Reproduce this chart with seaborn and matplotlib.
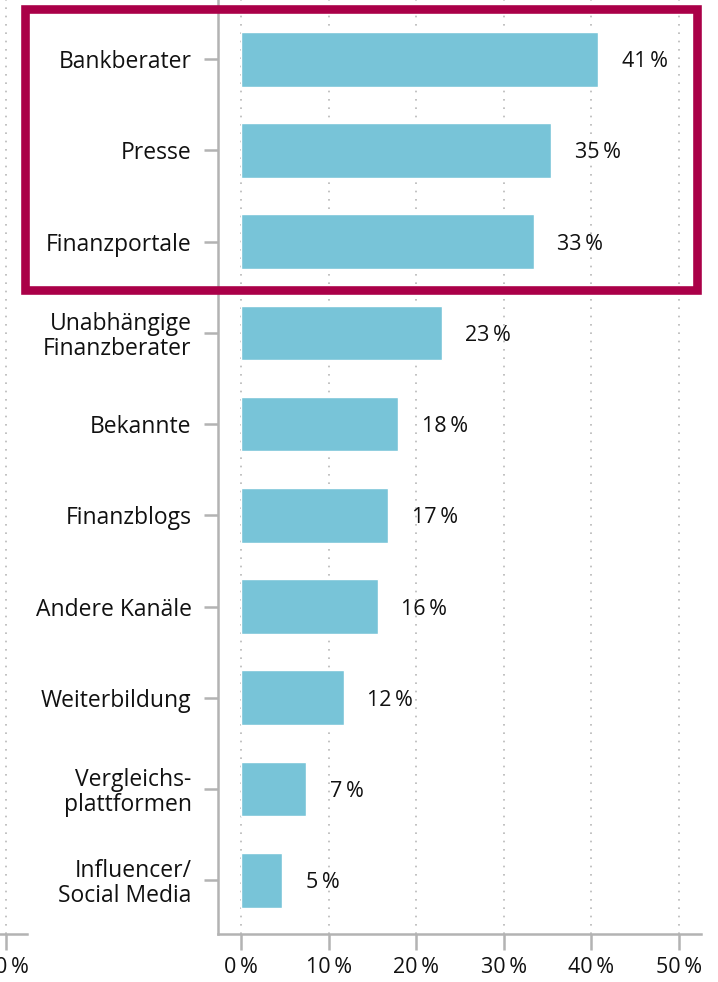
import seaborn as sns
import pandas as pd
import matplotlib.pyplot as plt
import matplotlib.transforms as mtransforms
from matplotlib.patches import Rectangle

# Data
channels = ['Bankberater', 'Presse', 'Finanzportale', 'Unabhängige\nFinanzberater',
            'Bekannte', 'Finanzblogs', 'Andere Kanäle', 'Weiterbildung',
            'Vergleichs-\nplattformen', 'Influencer/\nSocial Media']
shares = [40.8, 35.4, 33.4, 22.9, 17.9, 16.8, 15.6, 11.7, 7.4, 4.7]
value_labels = ['41', '35', '33', '23', '18', '17', '16', '12', '7', '5']
tick_values = [0, 10, 20, 30, 40, 50]

df = pd.DataFrame({'channel': channels, 'share': shares})

sns.set_style('white')
plt.rcParams['font.family'] = ['Open Sans', 'DejaVu Sans']

bar_color = '#78c4d8'
axis_gray = '#b3b3b3'
grid_gray = '#b8b8b8'
box_red = '#aa0048'
text_col = '#111111'

fig = plt.figure(figsize=(7.18, 9.82), dpi=100)

# main chart
ax = fig.add_axes([218 / 718, 48 / 982, 483 / 718, 934 / 982])
sns.barplot(data=df, x='share', y='channel', orient='h', color=bar_color,
            width=0.6, saturation=1, ax=ax)

ax.set_xlim(-2.63, 52.5)
ax.set_ylim(len(channels) - 1 + 0.59, -0.65)
ax.set_xticks(tick_values)
ax.set_xticklabels([f'{t}\u2009%' for t in tick_values])
ax.set_xlabel('')
ax.set_ylabel('')

for t in tick_values:
    ax.axvline(t, color=grid_gray, linestyle=(0, (1, 4)), linewidth=1.2, zorder=0)

for i, (v, lab) in enumerate(zip(shares, value_labels)):
    ax.text(v + 2.7, i, f'{lab}\u2009%', va='center_baseline', ha='left',
            fontsize=15.5, color=text_col)

for side in ['top', 'right']:
    ax.spines[side].set_visible(False)
for side in ['left', 'bottom']:
    ax.spines[side].set_color(axis_gray)
    ax.spines[side].set_linewidth(1.8)

ax.tick_params(axis='x', length=11.5, width=1.8, color=axis_gray, pad=5,
               labelsize=15.5, labelcolor=text_col, bottom=True)
ax.tick_params(axis='y', length=10, width=1.8, color=axis_gray, pad=9,
               labelsize=16.5, labelcolor=text_col, left=True)
for lab in ax.get_yticklabels():
    lab.set_horizontalalignment('right')
    lab.set_multialignment('right')
    lab.set_linespacing(1.05)

# fragment of the neighbouring chart at the left edge
ax2 = fig.add_axes([-36 / 718, 48 / 982, 63 / 718, 934 / 982])
ax2.set_xlim(-2, 1)
ax2.set_ylim(0, 1)
ax2.set_xticks([0])
ax2.set_xticklabels(['0\u2009%'])
ax2.set_yticks([])
ax2.axvline(0, color=grid_gray, linestyle=(0, (1, 4)), linewidth=1.2, zorder=0)
for side in ['top', 'right', 'left']:
    ax2.spines[side].set_visible(False)
ax2.spines['bottom'].set_color(axis_gray)
ax2.spines['bottom'].set_linewidth(1.8)
ax2.tick_params(axis='x', length=11.5, width=1.8, color=axis_gray, pad=5,
                labelsize=15.5, labelcolor=text_col, bottom=True)
shift = mtransforms.ScaledTranslation(6 / 100, 0, fig.dpi_scale_trans)
for lab in ax2.get_xticklabels():
    lab.set_transform(lab.get_transform() + shift)
ax2.patch.set_alpha(0)

# highlight box around the top three
fig.patches.append(Rectangle((24.7 / 718, 1 - 289.7 / 982), (697.3 - 24.7) / 718,
                             (289.7 - 9.2) / 982, transform=fig.transFigure,
                             fill=False, edgecolor=box_red, linewidth=6.2, zorder=10))

fig.savefig('out.png', dpi=100)
